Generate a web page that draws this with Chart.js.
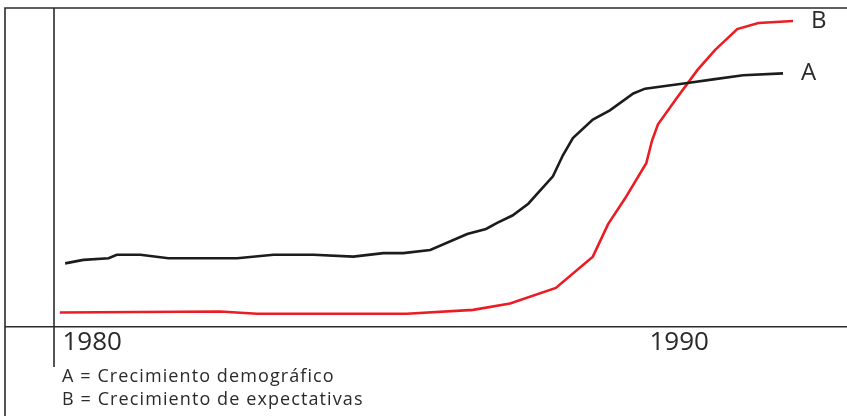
<!DOCTYPE html>
<html>
<head>
<meta charset="utf-8">
<script src="https://cdn.jsdelivr.net/npm/chart.js@4/dist/chart.umd.min.js"></script>
<style>
  html, body { margin: 0; padding: 0; background: #fff; }
  #wrap { width: 847px; height: 416px; position: relative; }
</style>
</head>
<body>
<div id="wrap"><canvas id="chart"></canvas></div>
<script>
// años (eje x) y valores relativos (0-100)
const yearsA = [1979.54, 1979.85, 1980.28, 1980.42, 1980.82, 1981.30, 1982.47, 1983.09, 1983.77, 1984.45,
    1984.96, 1985.30, 1985.76, 1986.39, 1986.71, 1986.90, 1987.16, 1987.43, 1987.85, 1988.02,
    1988.19, 1988.53, 1988.82, 1989.22, 1989.42, 1990.14, 1990.58, 1991.09, 1991.77];
const valuesA = [19.9, 21.0, 21.5, 22.6, 22.6, 21.5, 21.5, 22.6, 22.6, 22.0,
    23.1, 23.1, 24.1, 29.1, 30.7, 32.6, 34.9, 38.6, 47.2, 53.8,
    59.2, 65.0, 67.9, 73.2, 74.7, 76.5, 77.6, 78.9, 79.5];

const yearsB = [1979.45, 1982.18, 1982.81, 1985.36, 1986.49, 1987.12, 1987.90, 1988.53, 1988.79, 1989.08,
    1989.44, 1989.54, 1989.64, 1989.97, 1990.31, 1990.61, 1990.99, 1991.35, 1991.94];
const valuesB = [4.5, 4.8, 4.1, 4.1, 5.3, 7.3, 12.2, 22.0, 32.2, 40.3,
    51.3, 58.5, 63.5, 72.0, 80.5, 86.8, 93.4, 95.3, 95.9];

const tickYears = [1980, 1990];
const seriesNames = ['A', 'B'];
const legendLines = ['A = Crecimiento demográfico', 'B = Crecimiento de expectativas'];

const FONT = '"Open Sans", Lato, sans-serif';

// marco, ejes, etiquetas A/B y leyenda
const framePlugin = {
    id: 'frame',
    afterDraw(chart) {
        const ctx = chart.ctx;
        const area = chart.chartArea;
        ctx.save();
        ctx.strokeStyle = '#2b2b2b';
        ctx.lineWidth = 1.6;
        ctx.beginPath();
        ctx.moveTo(5, 416); ctx.lineTo(5, 8); ctx.lineTo(847, 8);
        ctx.moveTo(5, area.bottom); ctx.lineTo(847, area.bottom);
        ctx.moveTo(area.left, 8); ctx.lineTo(area.left, 367);
        ctx.stroke();

        ctx.fillStyle = '#2a2a2a';
        ctx.font = '24px ' + FONT;
        ctx.textBaseline = 'middle';
        chart.data.datasets.forEach((ds, i) => {
            const meta = chart.getDatasetMeta(i);
            const last = meta.data[meta.data.length - 1];
            ctx.fillText(seriesNames[i], last.x + 18, last.y);
        });

        ctx.font = '18px ' + FONT;
        ctx.letterSpacing = '1.1px';
        ctx.textBaseline = 'alphabetic';
        ctx.fillText(legendLines[0], 62, 382);
        ctx.fillText(legendLines[1], 62, 405);
        ctx.restore();
    }
};

new Chart(document.getElementById('chart'), {
    type: 'line',
    data: {
        datasets: [
            {
                label: seriesNames[0],
                data: yearsA.map((x, i) => ({ x: x, y: valuesA[i] })),
                borderColor: '#1c1c1c',
                borderWidth: 2.6,
                pointRadius: 0,
                fill: false,
                tension: 0
            },
            {
                label: seriesNames[1],
                data: yearsB.map((x, i) => ({ x: x, y: valuesB[i] })),
                borderColor: '#ec1c24',
                borderWidth: 2.6,
                pointRadius: 0,
                fill: false,
                tension: 0
            }
        ]
    },
    options: {
        responsive: true,
        maintainAspectRatio: false,
        animation: false,
        layout: { padding: { left: 54, top: 8, right: 0, bottom: 58 } },
        plugins: { legend: { display: false }, tooltip: { enabled: false } },
        scales: {
            x: {
                type: 'linear',
                min: 1979.35,
                max: 1992.86,
                afterBuildTicks: axis => { axis.ticks = tickYears.map(v => ({ value: v })); },
                ticks: {
                    callback: v => String(v),
                    color: '#2a2a2a',
                    font: { family: FONT, size: 26 },
                    padding: 0,
                    maxRotation: 0,
                    autoSkip: false
                },
                grid: { display: false, drawTicks: false },
                border: { display: false }
            },
            y: {
                display: false,
                min: 0,
                max: 100
            }
        }
    },
    plugins: [framePlugin]
});
</script>
</body>
</html>
